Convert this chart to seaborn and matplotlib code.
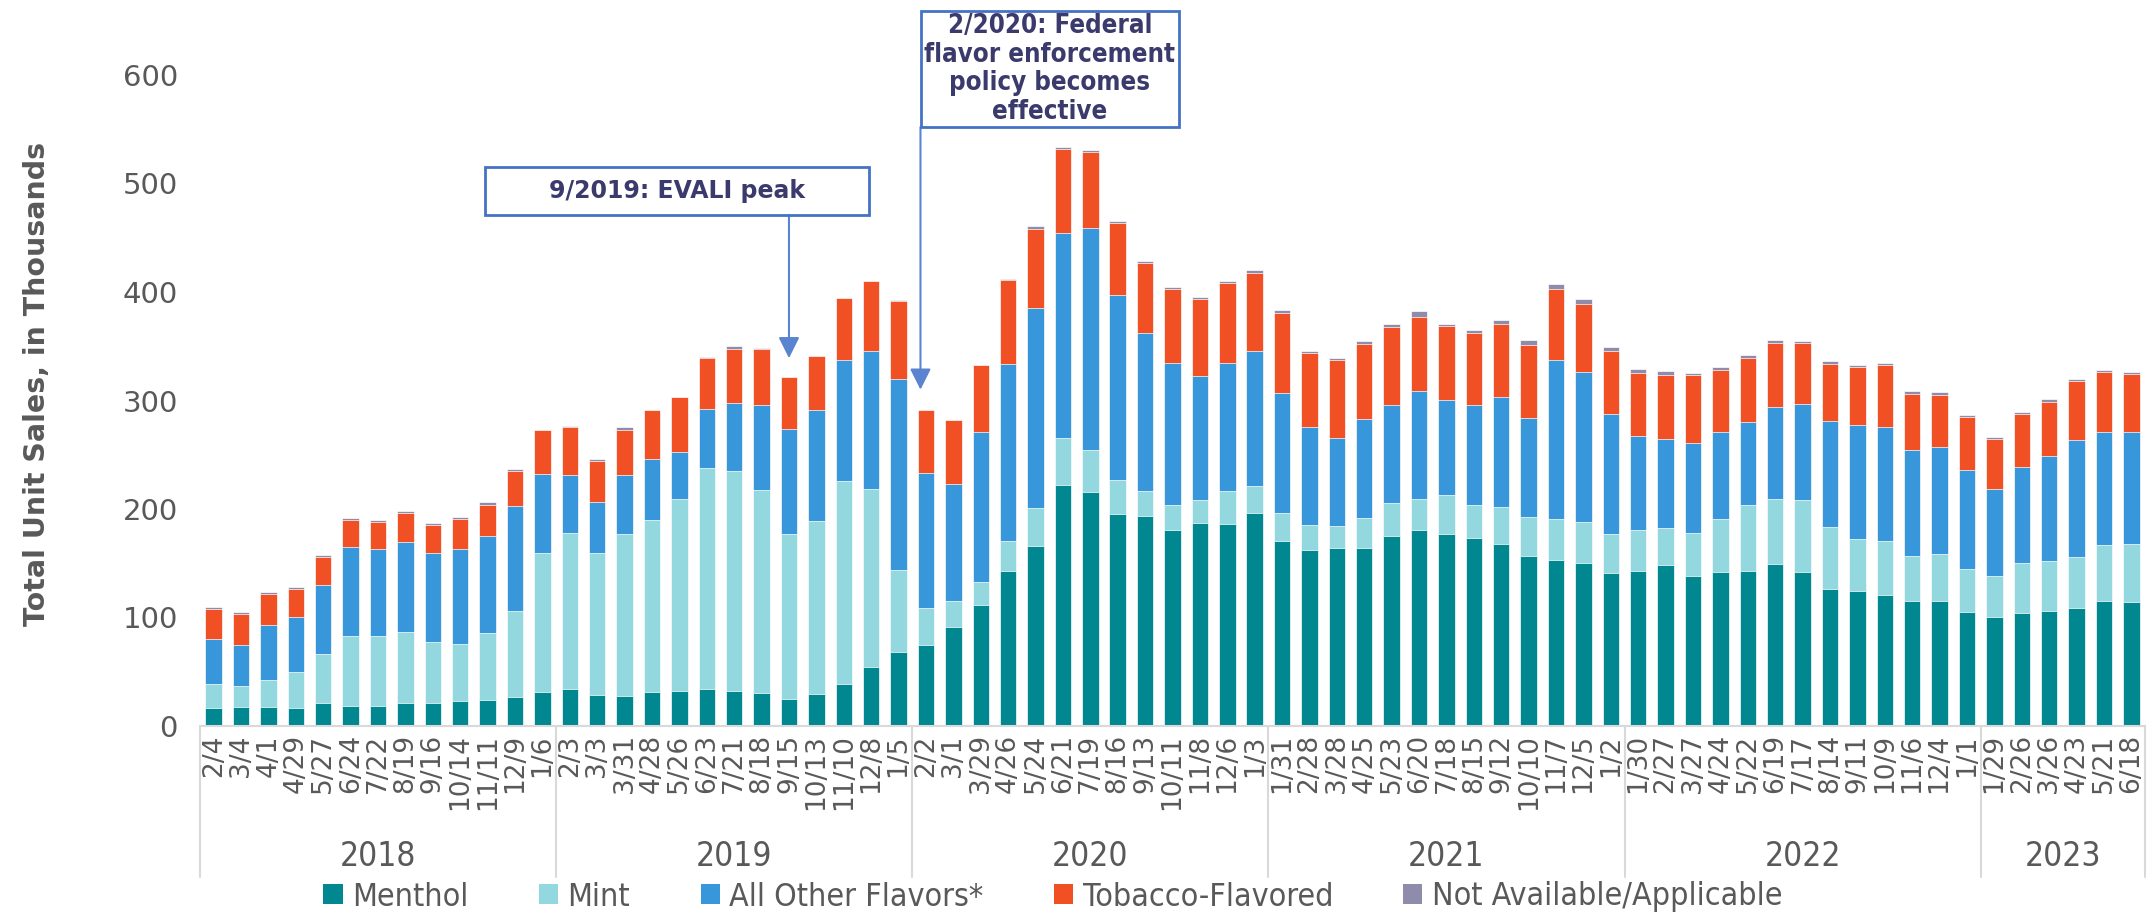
import numpy as np
import pandas as pd
import matplotlib
matplotlib.use("Agg")
import matplotlib.pyplot as plt
import matplotlib.transforms as mtransforms
from matplotlib.patches import Patch, Rectangle
from matplotlib.font_manager import FontProperties
import seaborn as sns

# ---------------- data ----------------
periods = ["2/4", "3/4", "4/1", "4/29", "5/27", "6/24", "7/22", "8/19", "9/16", "10/14", "11/11", "12/9", "1/6",
           "2/3", "3/3", "3/31", "4/28", "5/26", "6/23", "7/21", "8/18", "9/15", "10/13", "11/10", "12/8", "1/5",
           "2/2", "3/1", "3/29", "4/26", "5/24", "6/21", "7/19", "8/16", "9/13", "10/11", "11/8", "12/6", "1/3",
           "1/31", "2/28", "3/28", "4/25", "5/23", "6/20", "7/18", "8/15", "9/12", "10/10", "11/7", "12/5", "1/2",
           "1/30", "2/27", "3/27", "4/24", "5/22", "6/19", "7/17", "8/14", "9/11", "10/9", "11/6", "12/4", "1/1",
           "1/29", "2/26", "3/26", "4/23", "5/21", "6/18"]
years = ["2018", "2019", "2020", "2021", "2022", "2023"]
year_sizes = [13, 13, 13, 13, 13, 6]

menthol = [17, 17.5, 17.5, 17, 21, 18.7, 18.7, 21, 21, 23, 24, 27, 31.3,
           34, 28.2, 27.2, 31.4, 32.1, 34, 32.7, 30.4, 25.3, 29.1, 38.8, 54.7, 68.3,
           74.2, 90.8, 111.9, 143.3, 165.5, 222, 215.7, 195.5, 193.7, 181.1, 187.1, 186.4, 196.6,
           170.1, 162, 163.7, 164.3, 175, 180.5, 177.2, 173.7, 167.8, 156.6, 153, 150.4, 141.4,
           143.2, 148.1, 138, 141.9, 142.5, 149, 141.9, 126.6, 124.4, 120.7, 114.9, 115.5, 105.1,
           100.2, 103.8, 105.7, 108.8, 115.5, 114]
mint = [22, 19.5, 25, 32.5, 45.5, 64.3, 64.3, 66, 56, 53, 61.7, 79, 128.4,
        144, 131, 149.4, 158.5, 177.2, 203.4, 202, 187, 152, 160, 187, 164, 75.3,
        34.2, 24.3, 21.2, 27.6, 35, 43.3, 39.1, 31.4, 23.3, 22.2, 21.5, 30.6, 24.3,
        26.6, 23.3, 21, 27.2, 30.3, 28.8, 35.3, 30.4, 34, 35.8, 37.9, 37.5, 35.2,
        37.1, 34.1, 39.6, 48.6, 61.5, 60.2, 66.1, 56.8, 48.3, 50.1, 41.8, 43.3, 39.3,
        38.3, 46.4, 46.4, 47, 51.3, 54]
other = [41, 38, 51, 51, 63, 82, 80, 83, 82, 87, 89.4, 97, 72.6,
         53, 47.2, 55, 56.2, 43.3, 54.7, 63, 78.7, 96, 102.5, 111.5, 126.8, 176.6,
         125.2, 107.6, 137.9, 162.9, 184.5, 188.8, 204.6, 170, 145.4, 130.9, 113.9, 117.5, 124.9,
         110.2, 90.6, 80.8, 91.8, 90.3, 99.3, 88, 91.5, 101, 91.3, 146.8, 138.5, 110.6,
         87.3, 82, 83.5, 80.2, 75.9, 84.5, 89.1, 97.7, 104.4, 104.5, 97.4, 98.1, 91.6,
         79.9, 88.5, 97.1, 107.8, 103.9, 103.3]
tobacco = [28, 28, 28, 25.5, 26, 25, 25, 26, 26, 27.5, 29, 32.3, 40.2,
           45, 37.5, 41.4, 45.3, 50.2, 47.5, 49.8, 51.4, 48.2, 49.5, 57, 64.4, 71.8,
           57.8, 58.9, 61.4, 77.6, 73.3, 77.6, 69.8, 66.7, 64.5, 68.4, 71.2, 74.1, 72,
           73.7, 68.2, 72.2, 69.2, 72.4, 68.5, 68.2, 67, 67.5, 67.8, 65.3, 62.6, 58.5,
           58.1, 59.6, 62.1, 57.4, 59, 59.6, 55.6, 52.9, 53.5, 57.1, 52.2, 48.5, 48.5,
           45.8, 48.5, 49.7, 54.4, 55.3, 52.8]
not_avail = [2, 2, 2, 2, 2, 2, 2, 2, 2, 2, 2, 2, 0.3,
             0.3, 1.9, 2.2, 0.3, 0.3, 0.3, 2.5, 0.5, 0.3, 0.3, 0.3, 0.3, 0.3,
             0.3, 0.3, 0.3, 0.5, 2.2, 2.1, 2.1, 2.1, 1.7, 1.8, 1.8, 1.4, 2.2,
             2.4, 1.9, 1.9, 2, 2.3, 5.2, 1.9, 2.6, 3.9, 3.9, 4.8, 4.6, 3.9,
             3.6, 3.4, 2.5, 3.1, 2.7, 2.5, 2.5, 2.1, 1.8, 1.8, 2.1, 2.1, 1.8,
             2.2, 2.2, 2.2, 1.8, 2.1, 2.2]

layers = ["Menthol", "Mint", "All Other Flavors*", "Tobacco-Flavored", "Not Available/Applicable"]
colors = {"Menthol": "#00878F", "Mint": "#92D8DE", "All Other Flavors*": "#3897DA",
          "Tobacco-Flavored": "#F15024", "Not Available/Applicable": "#8F8BAA"}

df = pd.DataFrame({"idx": np.arange(len(periods)), "Menthol": menthol, "Mint": mint,
                   "All Other Flavors*": other, "Tobacco-Flavored": tobacco,
                   "Not Available/Applicable": not_avail})
cum = df[layers].cumsum(axis=1)
cum["idx"] = df["idx"]

# ---------------- style ----------------
sns.set_theme(style="white")
plt.rcParams['font.family'] = ['DejaVu Sans']
GRAY = "#595959"
NAVY = "#3B3A6C"
BOXBLUE = "#4472C4"

W, H = 2149, 915
fig = plt.figure(figsize=(W / 100, H / 100), dpi=100)
ax = fig.add_axes([200 / W, 189 / H, 1945 / W, 651 / H])

for name in reversed(layers):
    sns.barplot(data=cum, x="idx", y=name, color=colors[name], width=0.6, saturation=1,
                errorbar=None, ax=ax, edgecolor="white", linewidth=0.5)

ax.set_xlim(-0.5, len(periods) - 0.5)
ax.set_ylim(0, 600)
ax.set_yticks(range(0, 601, 100))
ax.set_yticklabels([str(v) for v in range(0, 601, 100)], fontsize=21, color=GRAY)
ax.set_xticks(range(len(periods)))
ax.set_xticklabels(periods, rotation=90, fontsize=19, color=GRAY)
ax.tick_params(axis="x", length=0, pad=6)
ax.tick_params(axis="y", length=0, pad=16)
ax.set_xlabel("")
ax.set_ylabel("")
for s in ["left", "top", "right"]:
    ax.spines[s].set_visible(False)
ax.spines["bottom"].set_color("#D9D9D9")
ax.spines["bottom"].set_linewidth(1.5)

fig.text(37 / W, 1 - 384 / H, "Total Unit Sales, in Thousands", rotation=90, fontsize=20.5,
         fontweight="bold", color=GRAY, ha="center", va="center")

# year groups
trans = mtransforms.blended_transform_factory(ax.transData, ax.transAxes)
start = 0
bounds = [-0.5]
for yr, n in zip(years, year_sizes):
    center = start + (n - 1) / 2
    ax.text(center, -0.2, yr, transform=trans, ha="center", va="center", fontsize=24,
            color=GRAY, family="DejaVu Sans", fontstretch="condensed")
    start += n
    bounds.append(start - 0.5)
for b in bounds:
    ax.plot([b, b], [0, -0.232], transform=trans, color="#D9D9D9", lw=1.5, clip_on=False)

# legend
handles = [Patch(facecolor=colors[n], edgecolor="none", label=n) for n in layers]
leg_font = FontProperties(family="DejaVu Sans", stretch="condensed", size=23)
leg = fig.legend(handles=handles, loc="center", bbox_to_anchor=(1053 / W, 1 - 897 / H), ncol=5,
                 frameon=False, handlelength=0.6, handleheight=0.6, handletextpad=0.3,
                 columnspacing=2.2, prop=leg_font)
for t in leg.get_texts():
    t.set_color(GRAY)

# annotation: EVALI
fig.patches.append(Rectangle((485 / W, 1 - 215 / H), 384 / W, 48 / H, transform=fig.transFigure,
                             fill=False, edgecolor=BOXBLUE, lw=2))
fig.text(677 / W, 1 - 191 / H, "9/2019: EVALI peak", ha="center", va="center", fontsize=17,
         fontweight="bold", color=NAVY)
ax.annotate("", xy=(21, 339), xytext=(21, 471),
            arrowprops=dict(arrowstyle="-|>", color="#5B84D0", lw=1.5, mutation_scale=32,
                            shrinkA=0, shrinkB=0), annotation_clip=False)

# annotation: federal policy
fig.patches.append(Rectangle((921 / W, 1 - 127 / H), 258 / W, 116 / H, transform=fig.transFigure,
                             fill=False, edgecolor=BOXBLUE, lw=2))
fig.text(1050 / W, 1 - 69 / H, "2/2020: Federal\nflavor enforcement\npolicy becomes\neffective",
         ha="center", va="center", fontsize=18.5, fontweight="bold", color=NAVY,
         family="DejaVu Sans", fontstretch="condensed", linespacing=1.12)
ax.annotate("", xy=(25.8, 310), xytext=(25.8, 552),
            arrowprops=dict(arrowstyle="-|>", color="#5B84D0", lw=1.5, mutation_scale=32,
                            shrinkA=0, shrinkB=0), annotation_clip=False)

fig.savefig("out.png", dpi=100)
